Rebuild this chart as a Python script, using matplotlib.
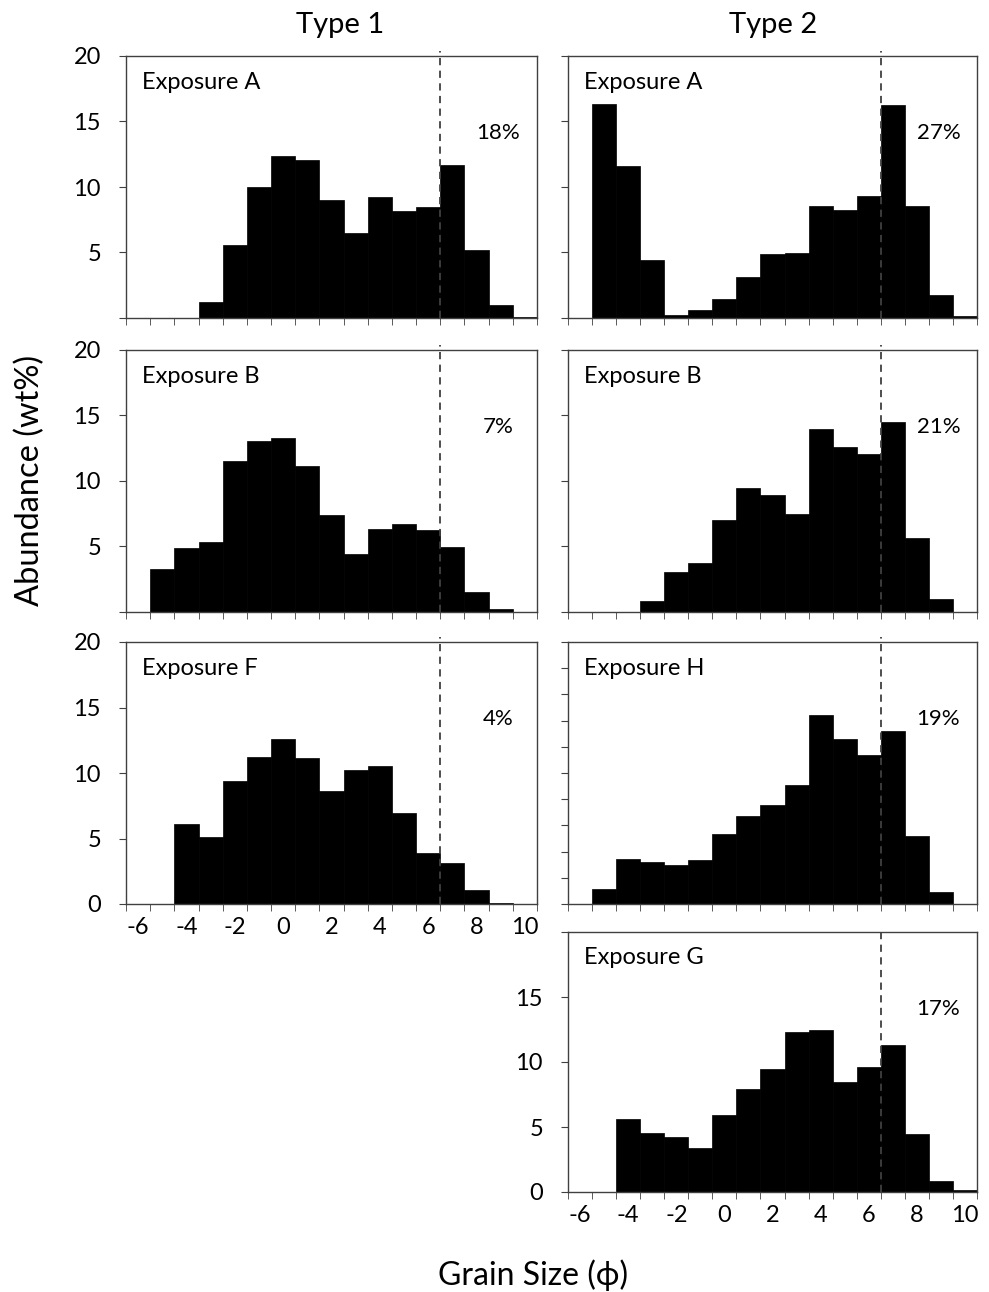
import numpy as np
import matplotlib
matplotlib.use("Agg")
import matplotlib.pyplot as plt
from matplotlib.ticker import FixedLocator

plt.rcParams['font.family'] = ['Lato', 'DejaVu Sans']
plt.rcParams['axes.unicode_minus'] = False

# -------------------------------------------------------
# Data (wt% per 1-phi class)
# -------------------------------------------------------
grain = np.arange(-6, 11)          # phi classes -6 .. 10
tick_labels = [-6, -4, -2, 0, 2, 4, 6, 8, 10]

t1_A = [0, 0, 0, 1.25, 5.55, 9.97, 12.34, 12.04, 9.03, 6.46, 9.21, 8.14, 8.50, 11.70, 5.17, 0.97, 0.1]
t1_B = [0, 3.27, 4.92, 5.35, 11.53, 13.05, 13.31, 11.18, 7.38, 4.46, 6.36, 6.74, 6.24, 4.94, 1.50, 0.25, 0]
t1_F = [0, 0, 6.09, 5.08, 9.42, 11.19, 12.59, 11.14, 8.65, 10.20, 10.51, 6.95, 3.93, 3.12, 1.07, 0.1, 0]

t2_A = [0, 16.34, 11.63, 4.40, 0.2, 0.64, 1.48, 3.16, 4.89, 4.96, 8.52, 8.27, 9.34, 16.29, 8.52, 1.73, 0.15]
t2_B = [0, 0, 0, 0.86, 3.05, 3.76, 7.0, 9.47, 8.96, 7.49, 13.96, 12.59, 12.08, 14.47, 5.66, 0.99, 0]
t2_H = [0, 1.17, 3.45, 3.22, 2.99, 3.37, 5.36, 6.69, 7.56, 9.09, 14.43, 12.62, 11.34, 13.23, 5.21, 0.92, 0]
t2_G = [0, 0, 5.61, 4.57, 4.21, 3.39, 5.89, 7.91, 9.44, 12.30, 12.45, 8.44, 9.59, 11.28, 4.49, 0.84, 0.13]

cutoff = 6.5
names = ["Exposure A", "Exposure B", "Exposure F", "Exposure A", "Exposure B", "Exposure H", "Exposure G"]
percents = ["18%", "7%", "4%", "27%", "21%", "19%", "17%"]

W, H = 989, 1292
EDGE = "#404040"


def add_panel(left, top, right, bottom):
    return fig.add_axes([left / W, 1 - bottom / H, (right - left) / W, (bottom - top) / H])


def plot_panel(ax, values, name, pct, ylabels, xlabels, yticks=(0, 5, 10, 15, 20)):
    ax.bar(grain, values, width=1.0, color="black", edgecolor="black", linewidth=0.5)
    ax.axvline(cutoff, ymax=1.02, clip_on=False, color="#404040",
               linestyle=(0, (4, 3)), linewidth=1.3)
    ax.set_xlim(-6.5, 10.5)
    ax.set_ylim(0, 20)

    ax.xaxis.set_major_locator(FixedLocator(tick_labels))
    ax.xaxis.set_minor_locator(FixedLocator(np.arange(-6.5, 11, 1.0)))
    ax.tick_params(axis="x", which="major", length=0, pad=9, labelsize=17)
    ax.tick_params(axis="x", which="minor", length=5, direction="out", color=EDGE)
    if not xlabels:
        ax.set_xticklabels([])

    ax.set_yticks(list(yticks))
    ax.set_yticklabels([str(t) if t in ylabels else "" for t in yticks])
    ax.tick_params(axis="y", length=5, direction="out", color=EDGE, pad=13, labelsize=17)

    for s in ax.spines.values():
        s.set_color(EDGE)
        s.set_linewidth(1.0)

    ax.text(0.04, 0.9, name, transform=ax.transAxes, fontsize=17, va="center", ha="left")
    ax.text(8.9, 14.1, pct, fontsize=16, va="center", ha="center")


fig = plt.figure(figsize=(W / 100, H / 100), dpi=100)

c1 = (126, 537)
c2 = (568, 977)
rows = [(56, 318), (350, 612), (642, 904), (932, 1192)]

ax = add_panel(c1[0], rows[0][0], c1[1], rows[0][1])
plot_panel(ax, t1_A, names[0], percents[0], [5, 10, 15, 20], False)
ax = add_panel(c1[0], rows[1][0], c1[1], rows[1][1])
plot_panel(ax, t1_B, names[1], percents[1], [5, 10, 15, 20], False)
ax = add_panel(c1[0], rows[2][0], c1[1], rows[2][1])
plot_panel(ax, t1_F, names[2], percents[2], [0, 5, 10, 15, 20], True)

ax = add_panel(c2[0], rows[0][0], c2[1], rows[0][1])
plot_panel(ax, t2_A, names[3], percents[3], [], False)
ax = add_panel(c2[0], rows[1][0], c2[1], rows[1][1])
plot_panel(ax, t2_B, names[4], percents[4], [], False)
ax = add_panel(c2[0], rows[2][0], c2[1], rows[2][1])
plot_panel(ax, t2_H, names[5], percents[5], [], False, yticks=range(0, 21, 2))
ax = add_panel(c2[0], rows[3][0], c2[1], rows[3][1])
plot_panel(ax, t2_G, names[6], percents[6], [0, 5, 10, 15], True)

fig.text(340 / W, 1 - 25 / H, "Type 1", fontsize=21, ha="center", va="center")
fig.text(773 / W, 1 - 25 / H, "Type 2", fontsize=21, ha="center", va="center")
fig.text(30 / W, 1 - 480 / H, "Abundance (wt%)", fontsize=23.5, rotation=90, ha="center", va="center")
fig.text(533 / W, 1 - 1275 / H, "Grain Size (\u03d5)", fontsize=23, ha="center", va="center")

fig.savefig("out.png", dpi=100)
